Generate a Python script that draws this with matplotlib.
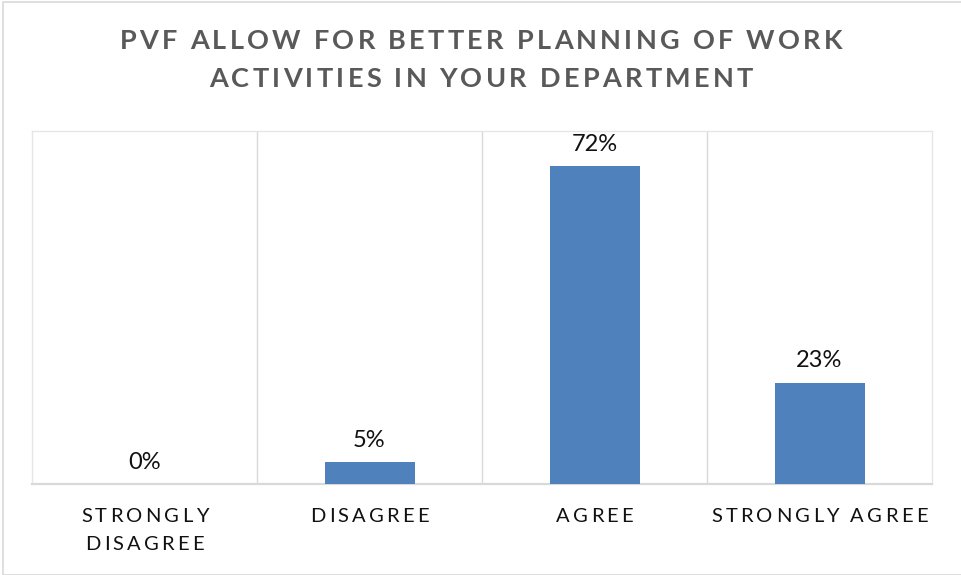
import matplotlib
matplotlib.use("Agg")
import matplotlib.pyplot as plt
from matplotlib.font_manager import FontProperties
from matplotlib.patches import Rectangle

categories = ["STRONGLY\nDISAGREE", "DISAGREE", "AGREE", "STRONGLY AGREE"]
shares = [0.00, 0.05, 0.72, 0.23]
value_labels = ["0%", "5%", "72%", "23%"]
title_lines = ["PVF ALLOW FOR BETTER PLANNING OF WORK", "ACTIVITIES IN YOUR DEPARTMENT"]

W, H = 961, 575
fig = plt.figure(figsize=(W / 100, H / 100), dpi=100)
fig.patch.set_facecolor("white")

# outer chart frame
fig.add_artist(Rectangle((2.5 / W, 0.5 / H), (W + 5 - 2.5) / W, (572.5) / H,
                         transform=fig.transFigure, fill=False,
                         edgecolor="#D9D9D9", linewidth=1.2))

left, right, top, bottom = 32, 932, 131, 484
ax = fig.add_axes([left / W, 1 - bottom / H, (right - left) / W, (bottom - top) / H])
x = list(range(len(categories)))
bar_color = "#4F81BD"
ax.bar(x, shares, width=0.4, color=bar_color, zorder=3)
ax.set_xlim(-0.5, len(categories) - 0.5)
ax.set_ylim(0, 0.8)
ax.set_xticks([])
ax.set_yticks([])
for side in ("left", "right", "top"):
    ax.spines[side].set_color("#E6E6E6")
    ax.spines[side].set_linewidth(1.0)
ax.spines["bottom"].set_color("#D9D9D9")
ax.spines["bottom"].set_linewidth(1.6)
for b in [i + 0.5 for i in range(len(categories) - 1)]:
    ax.axvline(b, color="#D9D9D9", linewidth=1.0, zorder=1)

# value labels above bars
for xi, v, lab in zip(x, shares, value_labels):
    ax.annotate(lab, (xi, v), xytext=(0, 8), textcoords="offset points",
                ha="center", va="bottom", fontsize=17, family="Lato",
                color="#111111")

renderer = fig.canvas.get_renderer()


def text_width(s, prop):
    if not s:
        return 0.0
    w, _, _ = renderer.get_text_width_height_descent(s, prop, ismath=False)
    return w


def spaced_text(s, cx, cy, prop, spacing, color):
    """Draw s centred at pixel (cx, cy) with extra letter spacing (px)."""
    n = len(s)
    total = text_width(s, prop) + spacing * (n - 1)
    x0 = cx - total / 2
    for i, ch in enumerate(s):
        if ch == " ":
            continue
        lx = x0 + text_width(s[:i + 1], prop) - text_width(ch, prop) + spacing * i
        fig.text(lx / W, 1 - cy / H, ch, fontproperties=prop, color=color,
                 ha="left", va="center")


def fit_spacing(s, prop, target):
    return (target - text_width(s, prop)) / (len(s) - 1)


# title
title_prop = FontProperties(family="Lato", weight="bold", size=19.5)
tsp = fit_spacing(title_lines[0], title_prop, 723)
spaced_text(title_lines[0], 481, 41, title_prop, tsp, "#595959")
spaced_text(title_lines[1], 481, 79, title_prop, tsp, "#595959")

# category labels
cat_prop = FontProperties(family="Lato", size=14.5)
csp = fit_spacing("STRONGLY AGREE", cat_prop, 216)
cell = (right - left) / len(categories)
for i, cat in enumerate(categories):
    cx = left + cell * (i + 0.5)
    for j, line in enumerate(cat.split("\n")):
        spaced_text(line, cx, 516 + j * 29, cat_prop, csp, "#111111")

fig.savefig("out.png", dpi=100, facecolor="white")
